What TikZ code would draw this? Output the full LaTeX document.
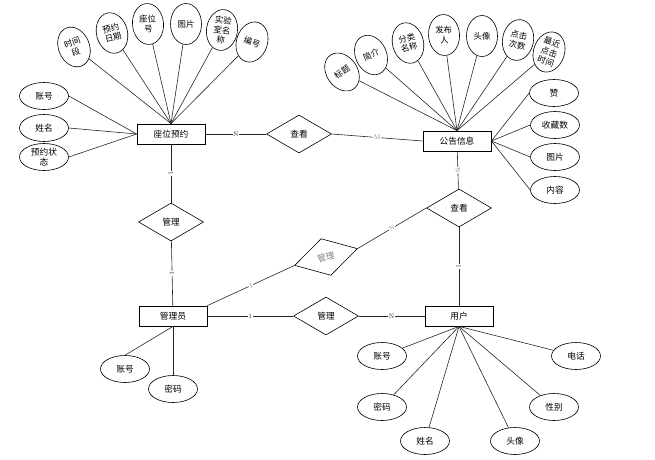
\documentclass[tikz,border=0pt]{standalone}
\usepackage{fontspec}
\newfontfamily\cjk{Noto Sans CJK SC}
\usetikzlibrary{shapes}
\usepackage{xcolor}

\begin{document}
\begin{tikzpicture}[
  x=1pt,y=-1pt,
  font=\cjk\fontsize{8.7}{10.5}\selectfont,
  entity/.style={draw,line width=.8pt,rectangle,minimum width=68pt,minimum height=20pt,inner sep=0pt},
  relation/.style={draw,line width=.6pt,diamond,minimum width=65pt,minimum height=38pt,inner sep=0pt},
  attr/.style={draw,line width=.6pt,ellipse,minimum width=49pt,minimum height=27pt,inner sep=0pt},
  fanAttr/.style={draw,line width=.6pt,ellipse,minimum width=31pt,minimum height=41pt,inner sep=0pt,align=center,font=\cjk\fontsize{8.4}{10}\selectfont},
  link/.style={-,line width=.6pt,black!85},
  card/.style={fill=white,inner sep=.5pt,font=\fontsize{6.5}{6.5}\selectfont},
  every node/.style={align=center}]

  \useasboundingbox (0,0) rectangle (655,459);

  % entities
  \node[entity] (eSeat) at (171,134) {座位预约};
  \node[entity] (eNotice) at (457,141) {公告信息};
  \node[entity] (eAdmin) at (173,316) {管理员};
  \node[entity] (eUser) at (459,316) {用户};

  % relations
  \node[relation] (rViewTop) at (299,134) {查看};
  \node[relation] (rManSeat) at (171,222) {管理};
  \node[relation,rotate=15,text=black!50] (rManNotice) at (326,257) {管理};
  \node[relation] (rViewUser) at (459,208) {查看};
  \node[relation] (rManUser) at (326,316) {管理};

  % attributes of the seat booking
  \node[fanAttr,rotate=22] (aSlot) at (74,47) {时间\\段};
  \node[fanAttr,rotate=14] (aDate) at (112,33) {预约\\日期};
  \node[fanAttr,rotate=5] (aSeatNo) at (148,24) {座位\\号};
  \node[fanAttr] (aSeatPic) at (186,24) {图片};
  \node[fanAttr,rotate=-8] (aLab) at (222,30) {实验\\室名\\称};
  \node[fanAttr,rotate=-18] (aSeatId) at (252,42) {编号};
  \node[attr] (aSeatAcct) at (44,96) {账号};
  \node[attr] (aSeatName) at (44,128) {姓名};
  \node[attr] (aSeatState) at (44,157) {预约状\\态};

  % attributes of the notice
  \node[fanAttr,rotate=35] (aTitle) at (342,72) {标题};
  \node[fanAttr,rotate=25] (aIntro) at (371,55) {简介};
  \node[fanAttr,rotate=14] (aCat) at (408,43) {分类\\名称};
  \node[fanAttr,rotate=4] (aAuthor) at (444,35) {发布\\人};
  \node[fanAttr] (aAvatar) at (482,36) {头像};
  \node[fanAttr,rotate=-10] (aClicks) at (518,40) {点击\\次数};
  \node[fanAttr,rotate=-18] (aLast) at (549,52) {最近\\点击\\时间};
  \node[attr] (aLike) at (554,93) {赞};
  \node[attr] (aFav) at (555,125) {收藏数};
  \node[attr] (aNotePic) at (555,157) {图片};
  \node[attr] (aText) at (555,190) {内容};

  % attributes of the admin
  \node[attr] (aAdminAcct) at (125,369) {账号};
  \node[attr] (aAdminPwd) at (173,389) {密码};

  % attributes of the user
  \node[attr] (aUserAcct) at (382,356) {账号};
  \node[attr] (aUserPwd) at (382,407) {密码};
  \node[attr] (aUserName) at (425,441) {姓名};
  \node[attr] (aUserAvatar) at (515,441) {头像};
  \node[attr] (aUserSex) at (554,407) {性别};
  \node[attr] (aUserTel) at (576,356) {电话};

  % attributes to entities
  \draw [link] (aSlot) -- (eSeat.north);
  \draw [link] (aDate) -- (eSeat.north);
  \draw [link] (aSeatNo) -- (eSeat.north);
  \draw [link] (aSeatPic) -- (eSeat.north);
  \draw [link] (aLab) -- (eSeat.north);
  \draw [link] (aSeatId) -- (eSeat.north);
  \draw [link] (aSeatAcct.east) -- (eSeat.west);
  \draw [link] (aSeatName.east) -- (eSeat.west);
  \draw [link] (aSeatState.east) -- (eSeat.west);

  \draw [link] (aTitle) -- (eNotice.north);
  \draw [link] (aIntro) -- (eNotice.north);
  \draw [link] (aCat) -- (eNotice.north);
  \draw [link] (aAuthor) -- (eNotice.north);
  \draw [link] (aAvatar) -- (eNotice.north);
  \draw [link] (aClicks) -- (eNotice.north);
  \draw [link] (aLast) -- (eNotice.north);
  \draw [link] (aLike.west) -- (eNotice.east);
  \draw [link] (aFav.west) -- (eNotice.east);
  \draw [link] (aNotePic.west) -- (eNotice.east);
  \draw [link] (aText.west) -- (eNotice.east);

  \draw [link] (aAdminAcct.north) -- (eAdmin.south);
  \draw [link] (aAdminPwd) -- (eAdmin.south);

  \draw [link] (aUserAcct) -- (eUser.south);
  \draw [link] (aUserPwd) -- (eUser.south);
  \draw [link] (aUserName) -- (eUser.south);
  \draw [link] (aUserAvatar) -- (eUser.south);
  \draw [link] (aUserSex) -- (eUser.south);
  \draw [link] (aUserTel) -- (eUser.south);

  % relations to entities
  \draw [link] (eSeat) -- node[card] {N} (rViewTop);
  \draw [link] (rViewTop.east) -- node[card,text=black!50] {M} (eNotice.west);

  \draw [link] (eSeat) -- node[card,sloped] {1} (rManSeat);
  \draw [link] (rManSeat) -- node[card,sloped] {1} (eAdmin);

  \draw [link] (eAdmin.north east) -- node[card,sloped,text=black!50] {1} (rManNotice.west);
  \draw [link] (rManNotice.east) -- node[card,sloped,text=black!50] {N} (rViewUser.west);

  \draw [link] (eNotice) -- node[card,sloped,text=black!50] {N} (rViewUser);
  \draw [link] (rViewUser) -- node[card,sloped] {1} (eUser);

  \draw [link] (eAdmin) -- node[card] {1} (rManUser);
  \draw [link] (rManUser) -- node[card] {N} (eUser);
\end{tikzpicture}
\end{document}
